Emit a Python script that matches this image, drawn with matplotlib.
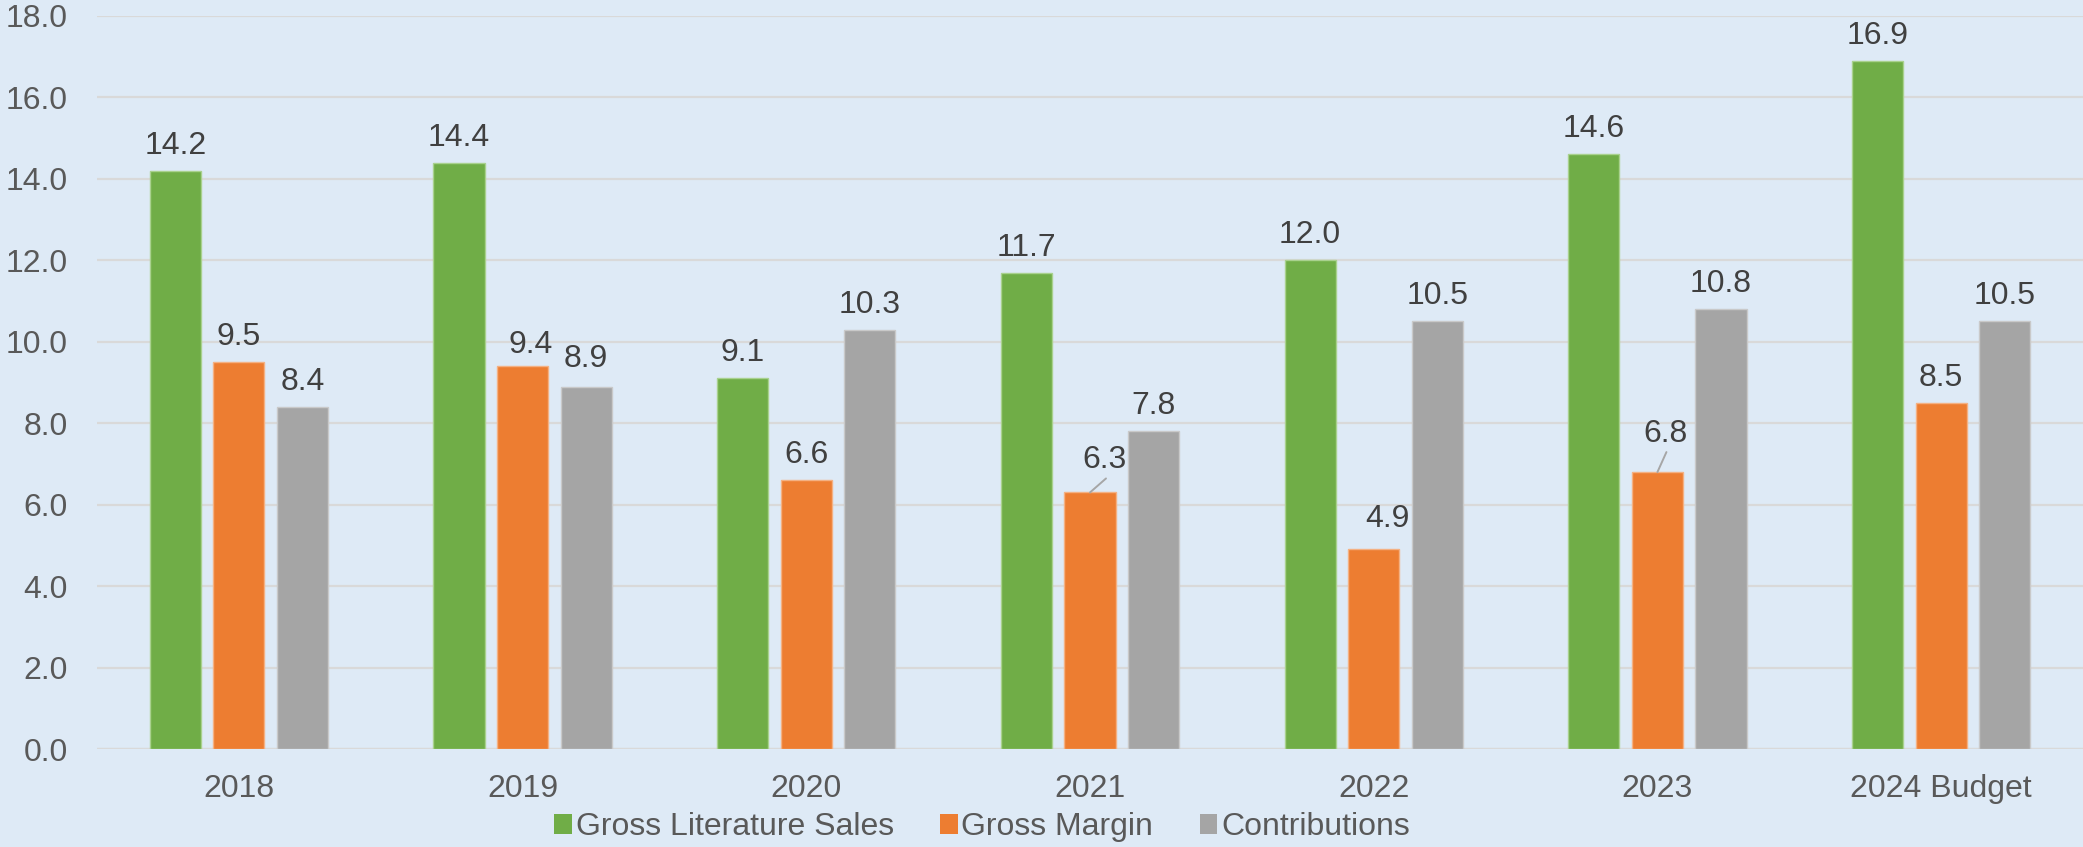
import matplotlib
matplotlib.use("Agg")
import matplotlib.pyplot as plt
from matplotlib.patches import Patch
import numpy as np

categories = ["2018", "2019", "2020", "2021", "2022", "2023", "2024 Budget"]
gross_literature_sales = [14.2, 14.4, 9.1, 11.7, 12.0, 14.6, 16.9]
gross_margin = [9.5, 9.4, 6.6, 6.3, 4.9, 6.8, 8.5]
contributions = [8.4, 8.9, 10.3, 7.8, 10.5, 10.8, 10.5]
series_names = ["Gross Literature Sales", "Gross Margin", "Contributions"]
y_ticks = [0, 2, 4, 6, 8, 10, 12, 14, 16, 18]

colors = ["#70AD47", "#ED7D31", "#A5A5A5"]
edge_colors = ["#A9D18E", "#F4B183", "#C9C9C9"]
bg = "#DEEAF6"
PT = 72 / 100.0  # points per pixel at dpi 100
FS = 23

# label offsets (dx, dy in px) and optional leader-line end offsets (px)
label_layout = {
    (1, 1): (8, 13, None),
    (2, 1): (0, 20, None),
    (1, 4): (14, 22, None),
    (1, 3): (15, 24, (16, 14)),
    (1, 5): (8, 30, (9, 20)),
}

plt.rcParams["font.family"] = ["Liberation Sans", "DejaVu Sans"]

fig = plt.figure(figsize=(20.83, 8.47), dpi=100, facecolor=bg)
ax = fig.add_axes([97 / 2083, 98 / 847, 1 - 97 / 2083, 733 / 847])
ax.set_facecolor(bg)

x = np.arange(len(categories))
width = 0.18
step = 0.224
all_series = [gross_literature_sales, gross_margin, contributions]
for si, vals in enumerate(all_series):
    xs = x + (si - 1) * step
    ax.bar(xs, vals, width=width, color=colors[si], edgecolor=edge_colors[si],
           linewidth=1.0, zorder=3)
    for ci, v in enumerate(vals):
        dx, dy, leader = label_layout.get((si, ci), (0, 17, None))
        ax.annotate(f"{v:.1f}", xy=(xs[ci], v), xytext=(dx * PT, dy * PT),
                    textcoords="offset points", ha="center", va="baseline",
                    fontsize=FS, color="#404040", zorder=4)
        if leader is not None:
            ax.annotate("", xy=(xs[ci], v), xytext=(leader[0] * PT, leader[1] * PT),
                        textcoords="offset points",
                        arrowprops=dict(arrowstyle="-", color="#A6A6A6", lw=1.4,
                                        shrinkA=0, shrinkB=0), zorder=4)

ax.set_xlim(-0.5, len(categories) - 0.5)
ax.set_ylim(0, 18)
ax.set_yticks(y_ticks)
ax.set_yticklabels([f"{t:.1f}" for t in y_ticks])
ax.set_xticks(x)
ax.set_xticklabels(categories)
ax.yaxis.grid(True, color="#D9D9D9", linewidth=1.6, zorder=0)
ax.set_axisbelow(True)
for s in ax.spines.values():
    s.set_visible(False)
ax.axhline(0, color="#D9D9D9", linewidth=1.6, zorder=2)
ax.tick_params(axis="y", length=0, pad=29 * PT, labelsize=FS, labelcolor="#595959")
ax.tick_params(axis="x", length=0, pad=25 * PT, labelsize=FS, labelcolor="#595959")

handles = [Patch(facecolor=c, edgecolor="none") for c in colors]
fig.legend(handles, series_names, loc="center", bbox_to_anchor=(982 / 2083, 20 / 847),
           ncol=3, frameon=False, fontsize=FS, labelcolor="#595959",
           handlelength=0.55, handleheight=0.6, handletextpad=0.12,
           columnspacing=1.45, borderpad=0)

fig.savefig("out.png", dpi=100, facecolor=bg)
